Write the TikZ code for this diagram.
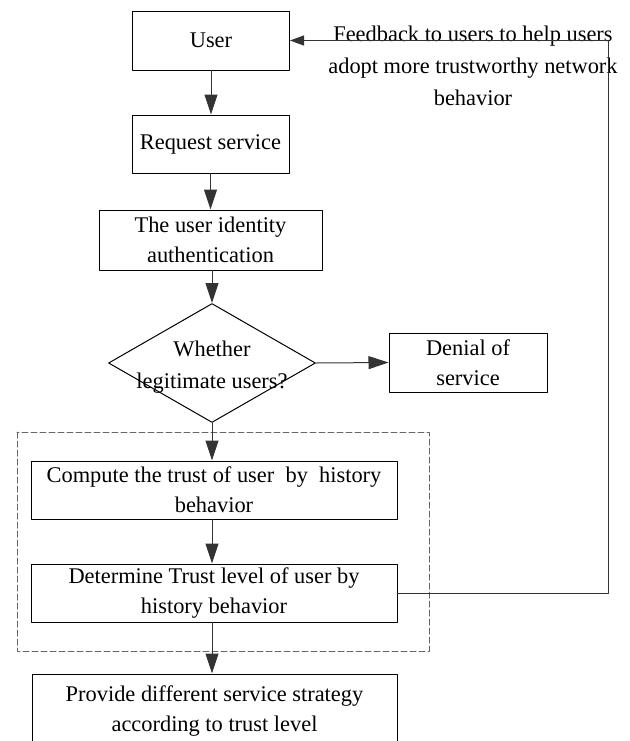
\documentclass[tikz,border=0pt]{standalone}
\usepackage{fontspec}
\setmainfont{Liberation Serif}
\usepackage{tikz}
\usetikzlibrary{arrows.meta,shapes.geometric}
\definecolor{lnclr}{rgb}{0.2,0.2,0.2}
\definecolor{dshclr}{rgb}{0.4,0.4,0.4}
\begin{document}
\begin{tikzpicture}[line cap=round,line join=round,>={Triangle[length=10pt,width=6.5pt]},x=0.5pt,y=-0.5pt,
  box/.style={draw,rectangle,align=center,inner sep=0pt,line width=0.5pt,font=\fontsize{11.2}{15}\selectfont},
  decision/.style={draw,diamond,inner sep=0pt,line width=0.5pt},
  lbl/.style={align=center,inner sep=0pt,font=\fontsize{11.2}{16}\selectfont},
  flow/.style={->,color=lnclr,line width=0.5pt}]
      \useasboundingbox (0,0) rectangle (630,741);
      \node[box,minimum width=78.5pt,minimum height=29.5pt] (user) at (211,40.5) {User};
      \node[box,minimum width=78.5pt,minimum height=29pt] (req) at (210.5,144) {Request service};
      \node[box,minimum width=111.5pt,minimum height=30pt] (auth) at (210.5,240) {The user identity\\authentication};
      \node[decision,minimum width=103.5pt,minimum height=59.5pt] (dec) at (212,363) {};
      \node[lbl] (dectxt) at (212,367) {Whether\\legitimate users?};
      \node[box,minimum width=79pt,minimum height=29.5pt] (deny) at (468,362.5) {Denial of\\service};
      \node[box,minimum width=183pt,minimum height=29pt] (comp) at (214,490) {Compute the trust of user\ \ by\ \ history\\behavior};
      \node[box,minimum width=183pt,minimum height=29pt] (det) at (214,593) {Determine Trust level of user by\\history behavior};
      \node[box,minimum width=182.5pt,minimum height=37pt] (prov) at (214.5,711) {Provide different service strategy\\according to trust level};
      \node[lbl] (fbtxt) at (473,66) {Feedback to users to help users\\adopt more trustworthy network\\behavior};
      \coordinate (fbturn) at (608,40.5);
      \draw[dashed,dash pattern=on 3pt off 1.5pt,color=dshclr,line width=0.5pt] (17,432) rectangle (429,651);
      \draw[flow] (user.south) -- (user.south |- req.north);
      \draw[flow] (req.south) -- (req.south |- auth.north);
      \draw[flow] (dec.north |- auth.south) -- (dec.north);
      \draw[flow] (dec.south) -- (dec.south |- comp.north);
      \draw[flow] (dec.south |- comp.south) -- (dec.south |- det.north);
      \draw[flow] (dec.south |- det.south) -- (dec.south |- prov.north);
      \draw[flow] (dec.east) -- (deny.west);
      \draw[flow,>={Triangle[length=7pt,width=5pt]}] (det.east) -| (fbturn) -- (user.east);
\end{tikzpicture}
\end{document}
